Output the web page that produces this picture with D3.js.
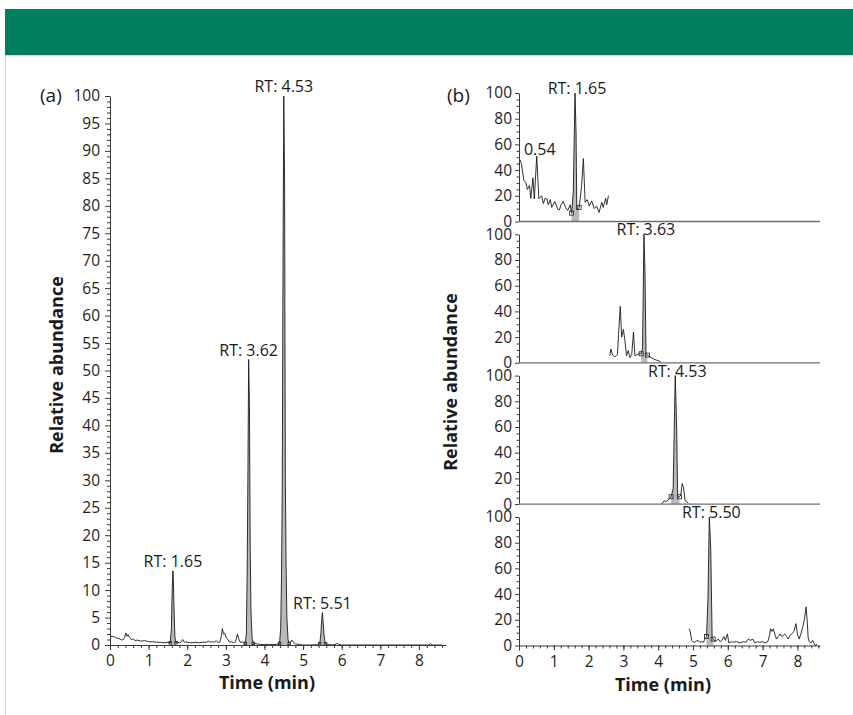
<!DOCTYPE html>
<html><head><meta charset="utf-8">
<script src="https://cdn.jsdelivr.net/npm/d3@7"></script>
<style>body{margin:0;background:#fff}svg{display:block}</style>
</head><body>
<svg id="c" width="853" height="715"></svg>
<script>
// ---------- DATA ----------
// (a) total chromatogram: [time (min), relative abundance]
const traceA = [
[0,1.7],[0.05,1.5],[0.1,1.6],[0.15,1.3],[0.2,1.2],[0.25,1.1],[0.3,0.9],[0.35,1.0],[0.38,1.4],[0.41,2.2],[0.44,1.6],[0.47,1.9],[0.5,1.4],[0.55,1.0],[0.6,1.1],[0.65,0.8],[0.7,0.9],[0.8,0.7],[0.9,0.8],[1.0,0.6],[1.1,0.6],[1.2,0.5],[1.3,0.5],[1.4,0.4],[1.5,0.5],[1.56,0.4],[1.59,3],[1.61,10],[1.63,13.5],[1.64,12],[1.66,6],[1.68,1.5],[1.71,0.4],[1.75,0.5],[1.8,0.4],[1.85,0.6],[1.88,1.0],[1.92,0.5],[1.96,0.6],[2.0,0.5],[2.1,0.4],[2.2,0.5],[2.3,0.4],[2.4,0.5],[2.5,0.5],[2.55,0.7],[2.6,0.5],[2.65,0.6],[2.7,0.5],[2.75,0.8],[2.8,0.4],[2.85,0.6],[2.88,1.5],[2.91,3.0],[2.94,2.0],[2.97,2.2],[3.0,1.5],[3.05,1.0],[3.1,0.5],[3.15,0.6],[3.2,0.4],[3.25,0.6],[3.3,2.0],[3.33,1.2],[3.37,0.5],[3.42,0.6],[3.46,0.4],[3.5,0.3],[3.53,2],[3.55,12],[3.57,30],[3.59,52],[3.61,44],[3.63,18],[3.65,6],[3.68,1.2],[3.71,0.3],[3.75,0.3],[3.8,0.2],[3.9,0.1],[4.0,0.1],[4.1,0.1],[4.2,0.1],[4.3,0.1],[4.35,0.2],[4.39,0.3],[4.42,3],[4.44,12],[4.46,28],[4.48,70],[4.5,100],[4.52,85],[4.54,30],[4.56,14],[4.58,5],[4.61,1],[4.64,0.3],[4.68,0.6],[4.71,0.9],[4.75,0.5],[4.8,0.2],[4.9,0.1],[5.0,0],[5.2,0],[5.38,0.05],[5.43,0.2],[5.46,2],[5.48,4.5],[5.5,5.9],[5.52,4],[5.54,2],[5.56,0.8],[5.58,0.2],[5.65,0.1],[5.75,0],[5.85,0.1],[5.88,0.35],[5.92,0.1],[6.0,0],[7.0,0],[8.0,0],[8.25,0],[8.3,0.25],[8.35,0],[8.6,0]
];
const fillsA = [[1.56,1.71],[3.50,3.71],[4.39,4.64],[5.43,5.58]];
const labelsA = ["RT: 1.65","RT: 3.62","RT: 4.53","RT: 5.51"];
const apexA = [1.63,3.59,4.50,5.50];

// (b) extracted chromatograms
const traceB1 = [
[0,45],[0.03,47.7],[0.07,45],[0.14,32],[0.2,30],[0.24,25],[0.3,28],[0.34,18],[0.4,34],[0.44,17.5],[0.51,50.8],[0.57,17.7],[0.65,20],[0.7,14],[0.75,18],[0.8,17.7],[0.84,13],[0.9,17],[0.94,11],[1.03,15.6],[1.08,12],[1.11,9.6],[1.16,9],[1.21,13],[1.27,15.6],[1.34,11],[1.4,8.6],[1.47,13],[1.51,6.5],[1.56,23],[1.61,100],[1.64,69],[1.66,9],[1.73,11],[1.8,28],[1.85,49],[1.9,15],[1.96,17],[2.02,12],[2.09,16],[2.16,10],[2.23,12],[2.3,7],[2.38,15],[2.42,11],[2.49,18],[2.52,13],[2.57,20]
];
const traceB2 = [
[2.61,5.5],[2.64,10.7],[2.69,6],[2.76,4.7],[2.83,6.5],[2.86,22],[2.91,44],[2.95,20],[3.0,26],[3.04,18],[3.09,5.5],[3.14,9.5],[3.19,4],[3.24,6.5],[3.29,24],[3.33,5.5],[3.4,6.5],[3.46,7],[3.51,7],[3.55,11],[3.59,100],[3.62,72],[3.65,7],[3.69,6],[3.74,5],[3.86,3],[3.96,2],[4.07,1]
];
const traceB3 = [
[4.10,0],[4.17,2.6],[4.24,2],[4.32,4.4],[4.37,5.7],[4.43,12],[4.49,100],[4.53,60],[4.56,5.7],[4.61,5.7],[4.65,7],[4.69,16],[4.73,13],[4.77,3],[4.87,0.5]
];
const traceB4 = [
[4.89,13],[4.92,11],[4.96,4],[4.99,3],[5.05,2.5],[5.1,3.5],[5.15,4],[5.2,2.5],[5.25,3],[5.3,2.5],[5.34,5],[5.39,7],[5.43,36],[5.47,100],[5.51,75],[5.55,6],[5.58,5],[5.63,3],[5.68,4],[5.73,5],[5.78,3],[5.83,4],[5.89,7],[5.93,4],[5.99,9],[6.03,2],[6.1,3],[6.16,2.5],[6.25,3],[6.35,2],[6.45,3],[6.52,2.5],[6.59,5],[6.65,4],[6.72,5],[6.78,2],[6.85,3],[6.92,2.5],[7.0,3],[7.07,2],[7.15,3],[7.2,8],[7.23,13],[7.27,11],[7.31,13],[7.36,8],[7.4,5],[7.45,7],[7.5,9],[7.55,7],[7.6,8],[7.64,9],[7.69,7],[7.74,5],[7.79,8],[7.84,9],[7.9,11],[7.96,17],[8.0,9],[8.05,5],[8.1,9],[8.15,14],[8.2,20],[8.25,30],[8.28,20],[8.31,6],[8.34,3],[8.39,2],[8.44,4],[8.48,1.5],[8.51,0],[8.57,1]
];
const fillsB = [[1.51,1.73],[3.51,3.69],[4.37,4.61],[5.39,5.58]];
const labelsB = ["RT: 1.65","RT: 3.63","RT: 4.53","RT: 5.50"];
const apexB = [1.61,3.59,4.49,5.47];
const extraLabelB1 = "0.54";
const extraApexB1 = 0.51;

const yTicksA = d3.range(0,101,5);
const yMinorA = d3.range(0,101,1);
const yTicksB = d3.range(0,101,20);
const yMinorB = d3.range(0,101,5);
const xTicks = d3.range(0,9,1);
const xMinor = d3.range(0,8.61,0.2);

// ---------- DRAWING ----------
const svg = d3.select("#c");
const FONT = "'Open Sans', 'DejaVu Sans', sans-serif";
const AX = "#3a3a3a";
const FILL = "#b5babc";

svg.append("rect").attr("x",5).attr("y",9).attr("width",848).attr("height",46).attr("fill","#007f5f");
svg.append("line").attr("x1",5.5).attr("x2",5.5).attr("y1",55).attr("y2",715).attr("stroke","#ecd6c2").attr("stroke-width",1);
svg.append("line").attr("x1",5).attr("x2",853).attr("y1",55.5).attr("y2",55.5).attr("stroke","#e8cdb5").attr("stroke-width",0.8);

function styleAxis(g){
  g.selectAll(".domain").attr("stroke",AX).attr("stroke-width",1);
  g.selectAll(".tick line").attr("stroke",AX).attr("stroke-width",1);
  g.selectAll(".tick text").attr("fill","#1e1e1e").style("font-family",FONT).style("font-size","15.5px");
}
function yAxis(x0, y, majors, minors, majLen, minLen, pad){
  const gm = svg.append("g").attr("transform",`translate(${x0},0)`)
    .call(d3.axisLeft(y).tickValues(minors.filter(v=>!majors.includes(v))).tickSize(minLen).tickFormat(""));
  gm.select(".domain").remove(); styleAxis(gm);
  const g = svg.append("g").attr("transform",`translate(${x0},0)`)
    .call(d3.axisLeft(y).tickValues(majors).tickSize(majLen).tickSizeOuter(0).tickPadding(pad));
  styleAxis(g);
}
function xAxis(y0, x){
  const gm = svg.append("g").attr("transform",`translate(0,${y0})`)
    .call(d3.axisBottom(x).tickValues(xMinor).tickSize(3).tickFormat(""));
  gm.select(".domain").remove(); styleAxis(gm);
  const g = svg.append("g").attr("transform",`translate(0,${y0})`)
    .call(d3.axisBottom(x).tickValues(xTicks).tickSize(5).tickSizeOuter(0).tickPadding(5).tickFormat(d3.format("d")));
  styleAxis(g);
}
function drawTrace(data, x, y, fills, msize){
  fills.forEach(([a,b])=>{
    const seg = data.filter(d=>d[0]>=a-1e-9 && d[0]<=b+1e-9);
    svg.append("path").datum(seg)
      .attr("d", d3.area().x(d=>x(d[0])).y0(y(0)).y1(d=>y(d[1])))
      .attr("fill",FILL).attr("stroke","none");
  });
  svg.append("path").datum(data)
    .attr("d", d3.line().x(d=>x(d[0])).y(d=>y(d[1])))
    .attr("fill","none").attr("stroke","#1a1a1a").attr("stroke-width",0.9).attr("stroke-linejoin","round");
  fills.forEach(([a,b])=>{
    [a,b].forEach(t=>{
      const d = data.find(p=>Math.abs(p[0]-t)<1e-9);
      if(!d) return;
      svg.append("rect").attr("x",x(t)-msize/2).attr("y",y(d[1])-msize/2)
        .attr("width",msize).attr("height",msize)
        .attr("fill","none").attr("stroke","#222").attr("stroke-width",0.8);
    });
  });
}
function label(txt, x, y, size){
  svg.append("text").attr("x",x).attr("y",y).attr("text-anchor","middle")
    .style("font-family",FONT).style("font-size",size+"px").attr("fill","#1a1a1a").text(txt);
}
const valAt = (data,t)=> data.find(p=>Math.abs(p[0]-t)<1e-9)[1];

// ----- panel (a)
const xA = d3.scaleLinear().domain([0,8.7]).range([110,446]);
const yA = d3.scaleLinear().domain([0,100]).range([645,96]);
drawTrace(traceA, xA, yA, fillsA, 2.5);
yAxis(110, yA, yTicksA, yMinorA, 5, 3, 5);
xAxis(645, xA);
labelsA.forEach((s,i)=> label(s, xA(apexA[i]), yA(valAt(traceA,apexA[i]))-4, 16));

svg.append("text").attr("x",40).attr("y",102).style("font-family",FONT).style("font-size","19px").attr("fill","#1a1a1a").text("(a)");
svg.append("text").attr("transform","translate(63,365) rotate(-90)").attr("text-anchor","middle")
  .style("font-family",FONT).style("font-size","18px").style("font-weight","bold").attr("fill","#1a1a1a").text("Relative abundance");
svg.append("text").attr("x",267).attr("y",689).attr("text-anchor","middle")
  .style("font-family",FONT).style("font-size","18px").style("font-weight","bold").attr("fill","#1a1a1a").text("Time (min)");

// ----- panel (b)
const xB = d3.scaleLinear().domain([0,8.65]).range([519,820]);
const tops = [93, 234.3, 375.6, 517];
const PH = 128.5;
const tracesB = [traceB1, traceB2, traceB3, traceB4];
tracesB.forEach((tr,i)=>{
  const y = d3.scaleLinear().domain([0,100]).range([tops[i]+PH, tops[i]]);
  drawTrace(tr, xB, y, [fillsB[i]], 4);
  yAxis(519, y, yTicksB, yMinorB, 4, 2.5, 3);
  if(i<3){
    svg.append("line").attr("x1",519).attr("x2",820).attr("y1",y(0)).attr("y2",y(0))
      .attr("stroke","#6f6f6f").attr("stroke-width",1.3);
  } else {
    xAxis(y(0), xB);
  }
  label(labelsB[i], xB(apexB[i])+2, y(valAt(tr,apexB[i]))+1, 16);
  if(i===0) label(extraLabelB1, xB(extraApexB1)+3, y(valAt(tr,extraApexB1))-1, 16);
});
svg.append("text").attr("x",447).attr("y",102).style("font-family",FONT).style("font-size","19px").attr("fill","#1a1a1a").text("(b)");
svg.append("text").attr("transform","translate(457,382) rotate(-90)").attr("text-anchor","middle")
  .style("font-family",FONT).style("font-size","18px").style("font-weight","bold").attr("fill","#1a1a1a").text("Relative abundance");
svg.append("text").attr("x",663).attr("y",691).attr("text-anchor","middle")
  .style("font-family",FONT).style("font-size","18px").style("font-weight","bold").attr("fill","#1a1a1a").text("Time (min)");
</script>
</body></html>
